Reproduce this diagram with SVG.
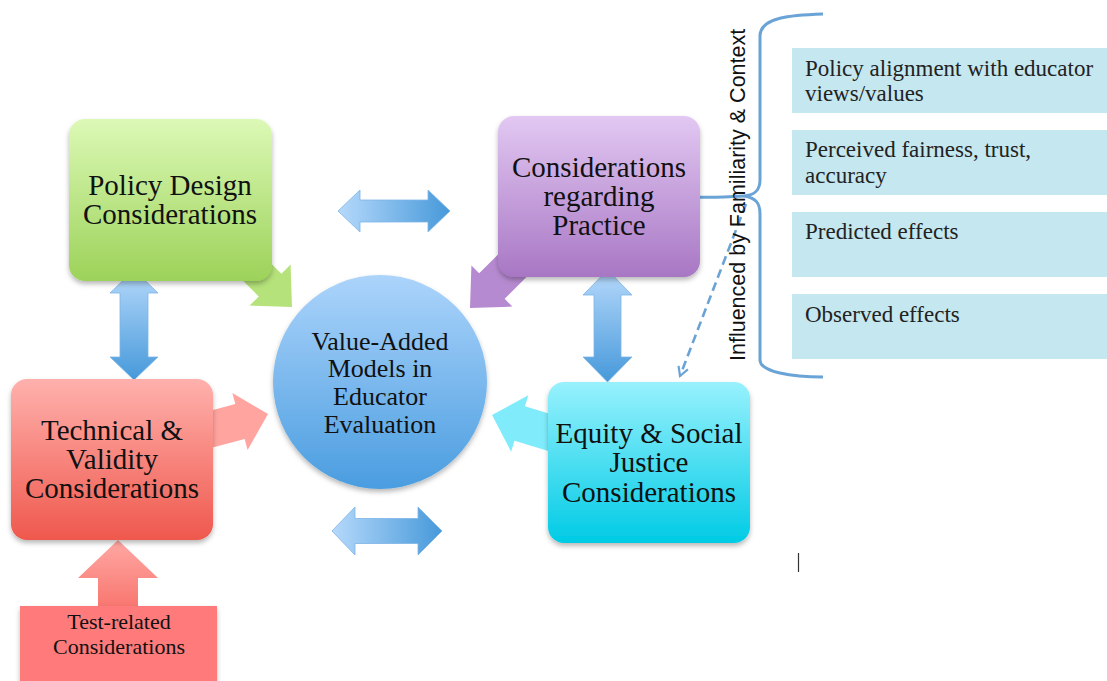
<svg xmlns="http://www.w3.org/2000/svg" width="1107" height="681" viewBox="0 0 1107 681">
<defs>
<linearGradient id="gGreen" x1="0" y1="0" x2="0" y2="1"><stop offset="0" stop-color="#dcf9b6"/><stop offset="1" stop-color="#9cd259"/></linearGradient>
<linearGradient id="gPurple" x1="0" y1="0" x2="0" y2="1"><stop offset="0" stop-color="#e2c8f2"/><stop offset="1" stop-color="#a877c4"/></linearGradient>
<linearGradient id="gBlue" x1="0" y1="0" x2="0" y2="1"><stop offset="0" stop-color="#acd4fb"/><stop offset="1" stop-color="#4a9de0"/></linearGradient>
<linearGradient id="gRed" x1="0" y1="0" x2="0" y2="1"><stop offset="0" stop-color="#ffb1ad"/><stop offset="1" stop-color="#ef584d"/></linearGradient>
<linearGradient id="gCyan" x1="0" y1="0" x2="0" y2="1"><stop offset="0" stop-color="#98f1fd"/><stop offset="1" stop-color="#00cbe5"/></linearGradient>
<linearGradient id="gArrH" x1="0" y1="0" x2="1" y2="0"><stop offset="0" stop-color="#b6d9fb"/><stop offset="1" stop-color="#4699da"/></linearGradient>
<linearGradient id="gArrV" x1="0" y1="0" x2="0" y2="1"><stop offset="0" stop-color="#b6d9fb"/><stop offset="1" stop-color="#4699da"/></linearGradient>
<linearGradient id="gGreenA" gradientUnits="userSpaceOnUse" x1="0" y1="250" x2="0" y2="310"><stop offset="0" stop-color="#b5e27a"/><stop offset="1" stop-color="#9cd259"/></linearGradient>
<linearGradient id="gPurpleA" gradientUnits="userSpaceOnUse" x1="0" y1="250" x2="0" y2="310"><stop offset="0" stop-color="#b68ad0"/><stop offset="1" stop-color="#a877c4"/></linearGradient>
<linearGradient id="gRedA" gradientUnits="userSpaceOnUse" x1="0" y1="390" x2="0" y2="452"><stop offset="0" stop-color="#ffa49f"/><stop offset="1" stop-color="#f7827a"/></linearGradient>
<linearGradient id="gCyanA" gradientUnits="userSpaceOnUse" x1="0" y1="392" x2="0" y2="455"><stop offset="0" stop-color="#80ecfb"/><stop offset="1" stop-color="#30d8ee"/></linearGradient>
<linearGradient id="gRedUp" x1="0" y1="0" x2="0" y2="1"><stop offset="0" stop-color="#ffa8a4"/><stop offset="1" stop-color="#f8736c"/></linearGradient>
<filter id="sh" x="-10%" y="-10%" width="120%" height="125%"><feDropShadow dx="0" dy="3" stdDeviation="2.5" flood-color="#000" flood-opacity="0.28"/></filter>
<marker id="vHead" viewBox="0 0 12 12" refX="10" refY="6" markerWidth="12" markerHeight="12" markerUnits="userSpaceOnUse" orient="auto"><path d="M1,1 L10,6 L1,11" fill="none" stroke="#6aa3d6" stroke-width="2.2"/></marker>
<style>
.big{font-family:"Liberation Serif","Times New Roman",serif;font-size:29px;fill:#111;text-anchor:middle}
.mid{font-family:"Liberation Serif","Times New Roman",serif;font-size:26px;fill:#111;text-anchor:middle}
.sm{font-family:"Liberation Serif","Times New Roman",serif;font-size:22px;fill:#111;text-anchor:middle}
.lst{font-family:"Liberation Serif","Times New Roman",serif;font-size:23px;fill:#222}
.side{font-family:"Liberation Sans",Arial,sans-serif;font-size:21.5px;fill:#111}
.dbl{stroke:#7db4e6;stroke-width:0.8}
.conn{fill:none;stroke:#6aa3d6;stroke-width:3}
.item{fill:#c5e7ef}
</style>
</defs>
<rect width="1107" height="681" fill="#fff"/>

<g id="connectors">
<path class="conn" d="M823,14 C792,15 760,17 760,36 L760,180 C760,191 754,195 744,196 C756,198 760,203 760,214 L760,360 C760,372 792,377 823,377"/>
<path class="conn" d="M693,197 C712,198 728,197 744,196"/>
<path d="M746,204 L680,376" fill="none" stroke="#6aa3d6" stroke-width="2.6" stroke-dasharray="9,5" marker-end="url(#vHead)"/>
<polygon points="338,211 360,190 360,200 428,200 428,190 450,211 428,232 428,222 360,222 360,232" fill="url(#gArrH)" class="dbl"/>
<polygon points="332,531 355,507 355,518.5 418,518.5 418,507 442,531 418,555 418,543.5 355,543.5 355,555" fill="url(#gArrH)" class="dbl"/>
<polygon points="134,270 158,293 148,293 148,357 158,357 134,380 110,357 120,357 120,293 110,293" fill="url(#gArrV)" class="dbl"/>
<polygon points="607.5,270 632,295 621,295 621,357 632,357 607.5,382 583,357 594,357 594,295 583,295" fill="url(#gArrV)" class="dbl"/>
<polygon transform="translate(292,307) rotate(45)" points="0,0 -31,-29 -31,-16 -110,-16 -110,16 -31,16 -31,29" fill="url(#gGreenA)"/>
<polygon transform="translate(470,308) rotate(135)" points="0,0 -31,-29 -31,-18 -110,-18 -110,18 -31,18 -31,29" fill="url(#gPurpleA)"/>
<polygon transform="translate(268,414) rotate(-15)" points="0,0 -29,-29.5 -29,-18 -110,-18 -110,18 -29,18 -29,29.5" fill="url(#gRedA)"/>
<polygon transform="translate(492,415) rotate(197)" points="0,0 -29,-29.5 -29,-18 -110,-18 -110,18 -29,18 -29,29.5" fill="url(#gCyanA)"/>
<polygon points="118,540 158,578 138,578 138,612 98,612 98,578 78,578" fill="url(#gRedUp)"/>
</g>

<g id="policy-design">
<rect x="69" y="119" width="203" height="162" rx="16" fill="url(#gGreen)" filter="url(#sh)"/>
<text class="big" x="170" y="195">Policy Design</text>
<text class="big" x="170" y="224">Considerations</text>
</g>

<g id="practice">
<rect x="498" y="116" width="202" height="161" rx="16" fill="url(#gPurple)" filter="url(#sh)"/>
<text class="big" x="599" y="177">Considerations</text>
<text class="big" x="599" y="206">regarding</text>
<text class="big" x="599" y="235">Practice</text>
</g>

<g id="vam">
<circle cx="380" cy="382" r="107" fill="url(#gBlue)" filter="url(#sh)"/>
<text class="mid" x="380" y="350">Value-Added</text>
<text class="mid" x="380" y="377">Models in</text>
<text class="mid" x="380" y="405">Educator</text>
<text class="mid" x="380" y="433">Evaluation</text>
</g>

<g id="technical">
<rect x="11" y="379" width="202" height="161" rx="16" fill="url(#gRed)" filter="url(#sh)"/>
<text class="big" x="112" y="440">Technical &amp;</text>
<text class="big" x="112" y="469">Validity</text>
<text class="big" x="112" y="498">Considerations</text>
</g>

<g id="equity">
<rect x="548" y="382" width="202" height="161" rx="16" fill="url(#gCyan)" filter="url(#sh)"/>
<text class="big" x="649" y="443">Equity &amp; Social</text>
<text class="big" x="649" y="472">Justice</text>
<text class="big" x="649" y="502">Considerations</text>
</g>

<g id="test-related">
<rect x="20" y="606" width="197" height="90" fill="#ff7a7a" filter="url(#sh)"/>
<text class="sm" x="119" y="629">Test-related</text>
<text class="sm" x="119" y="654">Considerations</text>
</g>

<g id="influence-label">
<text class="side" transform="translate(745,361) rotate(-90)">Influenced by Familiarity &amp; Context</text>
</g>

<g id="item-alignment">
<rect class="item" x="792" y="48" width="315" height="65"/>
<text class="lst" x="805" y="76">Policy alignment with educator</text>
<text class="lst" x="805" y="101">views/values</text>
</g>
<g id="item-fairness">
<rect class="item" x="792" y="130" width="315" height="65"/>
<text class="lst" x="805" y="157">Perceived fairness, trust,</text>
<text class="lst" x="805" y="183">accuracy</text>
</g>
<g id="item-predicted">
<rect class="item" x="792" y="212" width="315" height="65"/>
<text class="lst" x="805" y="239">Predicted effects</text>
</g>
<g id="item-observed">
<rect class="item" x="792" y="294" width="315" height="65"/>
<text class="lst" x="805" y="322">Observed effects</text>
</g>

<line x1="798.5" y1="553" x2="798.5" y2="572" stroke="#333" stroke-width="1.2"/>
</svg>
